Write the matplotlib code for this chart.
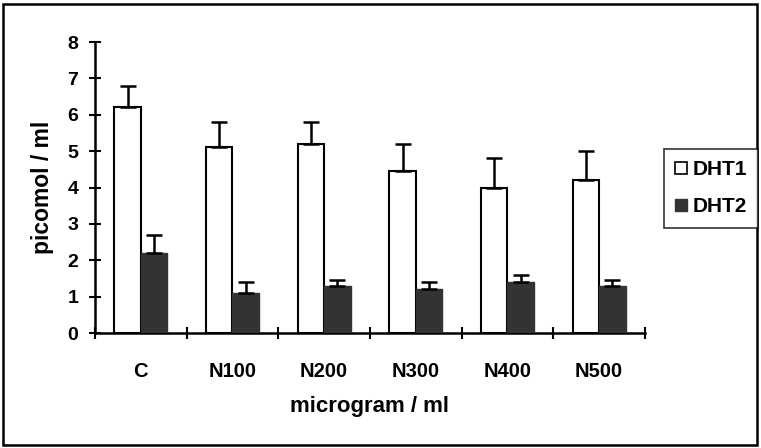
import matplotlib
matplotlib.use("Agg")
import matplotlib.pyplot as plt
import numpy as np
from matplotlib.patches import Rectangle
from matplotlib.lines import Line2D

categories = ["C", "N100", "N200", "N300", "N400", "N500"]
dht1 = [6.2, 5.1, 5.2, 4.45, 4.0, 4.2]
dht1_err = [0.6, 0.7, 0.6, 0.75, 0.8, 0.8]
dht2 = [2.2, 1.1, 1.3, 1.2, 1.4, 1.3]
dht2_err = [0.5, 0.3, 0.15, 0.2, 0.2, 0.15]
series_names = ["DHT1", "DHT2"]
y_ticks = [0, 1, 2, 3, 4, 5, 6, 7, 8]

plt.rcParams['font.family'] = ['Liberation Sans', 'DejaVu Sans']
plt.rcParams['font.weight'] = 'bold'

W, H = 761, 448
fig = plt.figure(figsize=(W / 100, H / 100), dpi=100)
ax = fig.add_axes([95 / W, 1 - 333 / H, 550 / W, 291 / H])

x = np.arange(len(categories))
bw = 0.29
ekw = dict(elinewidth=1.8, capsize=6, capthick=1.8, ecolor='black')
ax.bar(x - bw / 2, dht1, bw, color='white', edgecolor='black', linewidth=1.5,
       yerr=[np.zeros(len(x)), dht1_err], error_kw=ekw, label=series_names[0], zorder=3)
ax.bar(x + bw / 2, dht2, bw, color='#333333', edgecolor='#333333', linewidth=1.0,
       yerr=[np.zeros(len(x)), dht2_err], error_kw=ekw, label=series_names[1], zorder=3)

ax.set_xlim(-0.5, len(categories) - 0.5)
ax.set_ylim(0, 8)
ax.set_yticks(y_ticks)
ax.set_yticklabels([str(t) for t in y_ticks], fontsize=14, fontweight='bold')
ax.tick_params(axis='y', direction='inout', length=8, width=1.5, pad=8)

ax.set_xticks(np.arange(len(categories) + 1) - 0.5)
ax.set_xticklabels([])
ax.tick_params(axis='x', which='major', direction='inout', length=9, width=1.5)
ax.set_xticks(x, minor=True)
ax.set_xticklabels(categories, minor=True, fontsize=14.5, fontweight='bold')
ax.tick_params(axis='x', which='minor', length=0, pad=21)

for s in ['top', 'right']:
    ax.spines[s].set_visible(False)
for s in ['left', 'bottom']:
    ax.spines[s].set_linewidth(1.8)

ax.set_xlabel("microgram / ml", fontsize=16, fontweight='bold', labelpad=11)
ax.set_ylabel("picomol / ml", fontsize=16.5, fontweight='bold', labelpad=10)

handles = [Line2D([], [], marker='s', linestyle='none', markersize=8,
                  markerfacecolor='white', markeredgecolor='black', markeredgewidth=1.2),
           Line2D([], [], marker='s', linestyle='none', markersize=8,
                  markerfacecolor='#333333', markeredgecolor='#333333')]
leg = fig.legend(handles, series_names, loc='upper left',
                 bbox_to_anchor=(664 / W, 1 - 149 / H), bbox_transform=fig.transFigure,
                 frameon=True, fancybox=False, edgecolor='black', fontsize=15,
                 handlelength=0.5, handletextpad=0.3, labelspacing=0.85,
                 borderpad=0.55, borderaxespad=0)
leg.get_frame().set_linewidth(1.2)

fig.patches.append(Rectangle((3 / W, 3 / H), 754 / W, 441 / H, transform=fig.transFigure,
                             fill=False, edgecolor='black', linewidth=1.8))

fig.savefig("out.png", dpi=100)
